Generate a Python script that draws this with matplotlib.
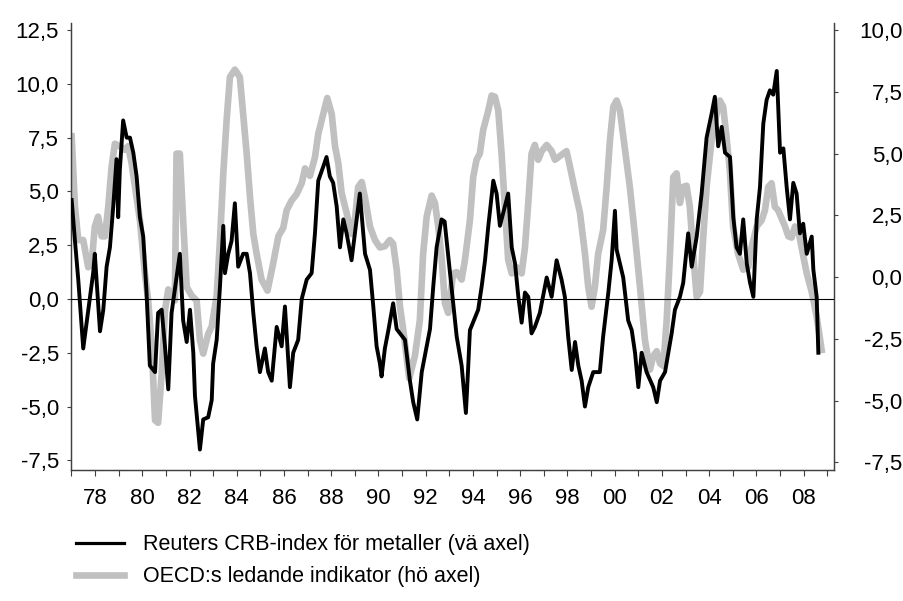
import matplotlib
matplotlib.use("Agg")
import matplotlib.pyplot as plt
import numpy as np
from matplotlib.lines import Line2D
from matplotlib.ticker import FixedLocator, FuncFormatter

plt.rcParams['font.family'] = ['Liberation Sans', 'DejaVu Sans']

# Reuters CRB metals index, annual change (left axis)
crb_year = [1977.01, 1977.15, 1977.29, 1977.50, 1977.92, 1977.99, 1978.21, 1978.35, 1978.49, 1978.63,
            1978.77, 1978.91, 1978.98, 1979.05, 1979.19, 1979.34, 1979.48, 1979.62, 1979.76, 1979.90,
            1980.04, 1980.18, 1980.32, 1980.54, 1980.67, 1980.82, 1980.96, 1981.10, 1981.24, 1981.59,
            1981.73, 1981.88, 1982.02, 1982.16, 1982.23, 1982.44, 1982.58, 1982.79, 1982.94, 1983.00,
            1983.15, 1983.29, 1983.43, 1983.50, 1983.64, 1983.78, 1983.92, 1984.06, 1984.27, 1984.42,
            1984.56, 1984.70, 1984.84, 1984.98, 1985.19, 1985.33, 1985.48, 1985.69, 1985.90, 1986.04,
            1986.25, 1986.39, 1986.60, 1986.75, 1986.96, 1987.17, 1987.31, 1987.45, 1987.66, 1987.80,
            1987.94, 1988.08, 1988.23, 1988.37, 1988.51, 1988.65, 1988.86, 1989.00, 1989.21, 1989.43,
            1989.64, 1989.78, 1989.92, 1990.06, 1990.13, 1990.27, 1990.41, 1990.62, 1990.77, 1991.12,
            1991.33, 1991.47, 1991.64, 1991.83, 1992.04, 1992.18, 1992.32, 1992.46, 1992.67, 1992.80,
            1993.31, 1993.52, 1993.70, 1993.80, 1993.87, 1994.22, 1994.37, 1994.51, 1994.65, 1994.86,
            1995.00, 1995.14, 1995.35, 1995.49, 1995.64, 1995.78, 1995.92, 1996.06, 1996.20, 1996.34,
            1996.48, 1996.62, 1996.83, 1997.12, 1997.33, 1997.54, 1997.75, 1997.89, 1998.03, 1998.18,
            1998.32, 1998.46, 1998.60, 1998.74, 1998.88, 1999.09, 1999.37, 1999.51, 1999.73, 1999.87,
            2000.01, 2000.08, 2000.22, 2000.36, 2000.57, 2000.72, 2000.86, 2001.00, 2001.14, 2001.35,
            2001.63, 2001.78, 2001.92, 2002.13, 2002.27, 2002.41, 2002.55, 2002.76, 2002.90, 2003.11,
            2003.26, 2003.47, 2003.68, 2003.89, 2004.10, 2004.24, 2004.38, 2004.53, 2004.67, 2004.88,
            2005.02, 2005.16, 2005.30, 2005.44, 2005.59, 2005.73, 2005.87, 2006.01, 2006.15, 2006.29,
            2006.43, 2006.57, 2006.71, 2006.86, 2006.92, 2007.00, 2007.14, 2007.28, 2007.42, 2007.56,
            2007.70, 2007.84, 2007.98, 2008.13, 2008.34, 2008.41, 2008.55, 2008.62]
crb_value = [4.6, 2.7, 0.9, -2.3, 1.2, 2.1, -1.5, -0.5, 1.5, 2.4,
             4.3, 6.5, 3.8, 6.0, 8.3, 7.5, 7.5, 6.8, 5.7, 3.8,
             2.9, 0.3, -3.1, -3.4, -0.65, -0.5, -2.2, -4.2, -0.65, 2.1,
             -1.0, -2.0, -0.5, -2.5, -4.5, -7.0, -5.6, -5.5, -4.7, -3.0,
             -1.9, 0.6, 3.4, 1.2, 2.1, 2.7, 4.45, 1.5, 2.1, 2.1,
             1.2, -0.65, -2.2, -3.4, -2.3, -3.4, -3.8, -1.3, -2.2, -0.35,
             -4.1, -2.5, -1.9, 0.0, 0.9, 1.2, 3.05, 5.5, 6.15, 6.6,
             5.7, 5.4, 4.3, 2.4, 3.7, 3.05, 1.8, 3.05, 4.9, 2.1,
             1.35, -0.35, -2.2, -3.0, -3.6, -2.3, -1.5, -0.2, -1.4, -1.9,
             -3.8, -4.8, -5.6, -3.4, -2.2, -1.4, 0.6, 2.4, 3.7, 3.6,
             -1.75, -3.1, -5.3, -3.1, -1.45, -0.5, 0.6, 1.8, 3.4, 5.5,
             4.9, 3.4, 4.3, 4.9, 2.4, 1.65, 0.1, -1.1, 0.3, 0.1,
             -1.6, -1.3, -0.65, 1.0, 0.1, 1.8, 0.9, 0.1, -1.75, -3.3,
             -2.0, -3.1, -3.8, -5.0, -4.1, -3.4, -3.4, -1.75, 0.3, 1.8,
             4.1, 2.3, 1.65, 1.0, -1.0, -1.45, -2.5, -4.1, -2.5, -3.4,
             -4.1, -4.8, -3.8, -3.4, -2.5, -1.6, -0.5, 0.1, 0.75, 3.05,
             1.5, 2.9, 4.9, 7.5, 8.6, 9.4, 7.1, 8.0, 6.8, 6.6,
             3.8, 2.4, 2.1, 3.7, 1.65, 0.75, 0.1, 3.7, 5.2, 8.15,
             9.25, 9.7, 9.5, 10.6, 9.0, 6.8, 7.0, 5.2, 3.7, 5.4,
             4.9, 3.05, 3.5, 2.1, 2.9, 1.35, 0.1, -2.5]

# OECD leading indicator (right axis)
oecd_year = [1977.01, 1977.15, 1977.29, 1977.50, 1977.71, 1977.86, 1977.99, 1978.13, 1978.28, 1978.42,
             1978.56, 1978.70, 1978.84, 1979.05, 1979.26, 1979.40, 1979.55, 1979.69, 1979.90, 1980.11,
             1980.25, 1980.40, 1980.54, 1980.67, 1980.82, 1980.96, 1981.10, 1981.38, 1981.45, 1981.59,
             1981.73, 1981.88, 1982.09, 1982.30, 1982.44, 1982.58, 1982.79, 1982.94, 1983.15, 1983.29,
             1983.43, 1983.57, 1983.71, 1983.92, 1984.13, 1984.27, 1984.42, 1984.56, 1984.70, 1984.84,
             1985.05, 1985.30, 1985.54, 1985.76, 1985.97, 1986.11, 1986.32, 1986.53, 1986.75, 1986.89,
             1987.10, 1987.31, 1987.45, 1987.66, 1987.83, 1988.02, 1988.16, 1988.30, 1988.44, 1988.65,
             1988.86, 1989.00, 1989.14, 1989.29, 1989.43, 1989.64, 1989.85, 1990.06, 1990.27, 1990.48,
             1990.62, 1990.77, 1990.91, 1991.05, 1991.30, 1991.54, 1991.75, 1991.89, 1992.04, 1992.25,
             1992.39, 1992.53, 1992.67, 1992.81, 1992.95, 1993.16, 1993.31, 1993.52, 1993.66, 1993.87,
             1994.01, 1994.15, 1994.29, 1994.43, 1994.65, 1994.79, 1994.93, 1995.07, 1995.21, 1995.35,
             1995.49, 1995.64, 1995.85, 1996.06, 1996.20, 1996.34, 1996.48, 1996.62, 1996.76, 1996.91,
             1997.12, 1997.33, 1997.47, 1997.61, 1997.82, 1997.96, 1998.11, 1998.32, 1998.53, 1998.74,
             1998.88, 1999.02, 1999.16, 1999.30, 1999.51, 1999.66, 1999.80, 1999.94, 2000.08, 2000.22,
             2000.43, 2000.64, 2000.86, 2001.07, 2001.28, 2001.49, 2001.63, 2001.78, 2001.92, 2002.06,
             2002.20, 2002.34, 2002.48, 2002.62, 2002.76, 2002.90, 2003.04, 2003.18, 2003.32, 2003.47,
             2003.61, 2003.75, 2003.89, 2004.10, 2004.31, 2004.45, 2004.59, 2004.73, 2004.87, 2005.01,
             2005.22, 2005.44, 2005.65, 2005.79, 2006.01, 2006.22, 2006.36, 2006.50, 2006.64, 2006.78,
             2006.92, 2007.21, 2007.35, 2007.49, 2007.63, 2007.77, 2007.91, 2008.13, 2008.34, 2008.55,
             2008.76]
oecd_value = [5.7, 2.85, 1.5, 1.5, 0.4, 0.6, 2.05, 2.45, 1.65, 1.65,
              2.85, 4.45, 5.4, 5.3, 5.15, 5.3, 4.6, 3.65, 2.3, 0.15,
              -0.95, -2.8, -5.8, -5.9, -3.9, -1.35, -0.5, -0.95, 5.0, 5.0,
              2.3, -0.4, -0.75, -0.95, -2.55, -3.1, -2.3, -2.0, -0.75, 1.5,
              4.2, 6.35, 8.1, 8.4, 8.1, 6.6, 5.0, 3.25, 1.75, 0.95,
              -0.1, -0.55, 0.55, 1.65, 2.0, 2.7, 3.1, 3.35, 3.8, 4.4,
              4.1, 4.85, 5.8, 6.6, 7.25, 6.6, 5.3, 4.6, 3.4, 2.6,
              1.75, 2.3, 3.65, 3.85, 3.2, 2.05, 1.5, 1.2, 1.25, 1.5,
              1.35, 0.3, -1.2, -2.15, -4.1, -3.2, -1.75, 0.95, 2.45, 3.3,
              3.0, 2.05, 0.8, -1.05, -1.45, 0.15, 0.2, -0.1, 0.7, 2.3,
              4.05, 4.75, 5.0, 5.95, 6.75, 7.35, 7.3, 6.75, 5.0, 2.85,
              0.7, 0.15, 0.4, 0.15, 1.2, 3.0, 5.0, 5.35, 4.75, 5.1,
              5.35, 5.1, 4.75, 4.85, 5.0, 5.1, 4.45, 3.5, 2.6, 0.95,
              -0.4, -1.2, -0.4, 0.95, 1.9, 3.65, 5.55, 6.9, 7.15, 6.75,
              5.2, 3.65, 1.65, -0.4, -2.55, -3.75, -3.2, -3.0, -3.5, -3.6,
              -1.75, 0.95, 4.05, 4.2, 3.0, 3.65, 3.7, 2.85, 0.95, -0.8,
              -0.6, 1.65, 3.65, 5.55, 6.6, 7.15, 6.9, 5.7, 4.35, 2.05,
              0.95, 0.3, 0.4, 1.2, 2.05, 2.3, 2.7, 3.65, 3.8, 2.85,
              2.7, 2.05, 1.65, 1.6, 2.05, 1.9, 1.2, 0.15, -0.6, -1.6,
              -2.95]

left_ticks = [-7.5, -5.0, -2.5, 0.0, 2.5, 5.0, 7.5, 10.0, 12.5]
right_ticks = [-7.5, -5.0, -2.5, 0.0, 2.5, 5.0, 7.5, 10.0]
year_ticks = list(range(1977, 2010))
year_labels = list(range(1978, 2009, 2))

fig = plt.figure(figsize=(9.04, 6.01), dpi=100)
ax = fig.add_axes([0.079, 0.218, 0.844, 0.743])
ax2 = ax.twinx()

ax2.plot(oecd_year, oecd_value, color='#c0c0c0', lw=4.8, solid_joinstyle='round', zorder=2)
ax.plot(crb_year, crb_value, color='black', lw=2.8, zorder=3)
ax.axhline(0, color='black', lw=0.8, zorder=4)

ax.set_zorder(ax2.get_zorder() + 1)
ax.patch.set_visible(False)

ax.set_xlim(1977.0, 2009.3)
ax.set_ylim(-7.95, 12.81)
ax2.set_ylim(-7.81, 10.27)

comma = FuncFormatter(lambda v, p: ('%.1f' % v).replace('.', ','))
ax.yaxis.set_major_locator(FixedLocator(left_ticks))
ax.yaxis.set_major_formatter(comma)
ax2.yaxis.set_major_locator(FixedLocator(right_ticks))
ax2.yaxis.set_major_formatter(comma)

ax.xaxis.set_major_locator(FixedLocator(year_labels))
ax.xaxis.set_major_formatter(FuncFormatter(lambda v, p: '%02d' % (int(round(v)) % 100)))
ax.xaxis.set_minor_locator(FixedLocator(year_ticks))

for a in (ax, ax2):
    for s in a.spines.values():
        s.set_color('#404040')
        s.set_linewidth(0.9)
ax.spines['top'].set_visible(False)
ax2.spines['top'].set_visible(False)

ax.tick_params(axis='y', direction='out', length=3, width=0.8, color='#404040',
               labelsize=16, pad=6)
ax.tick_params(axis='x', which='both', direction='out', length=4, width=0.8,
               color='#404040', labelsize=16, pad=9)
ax2.tick_params(axis='y', direction='out', length=3, width=0.8, color='#404040',
                labelsize=16, pad=46)
for lab in ax2.get_yticklabels():
    lab.set_horizontalalignment('right')

handles = [Line2D([], [], color='black', lw=2.3),
           Line2D([], [], color='#c0c0c0', lw=4.8)]
labels = ['Reuters CRB-index för metaller (vä axel)',
          'OECD:s ledande indikator (hö axel)']
fig.legend(handles, labels, loc='upper left', bbox_to_anchor=(0.075, 0.125),
           frameon=False, fontsize=15.5, handlelength=2.2, handletextpad=0.9,
           labelspacing=0.5, borderaxespad=0)

fig.savefig('out.png', dpi=100)
